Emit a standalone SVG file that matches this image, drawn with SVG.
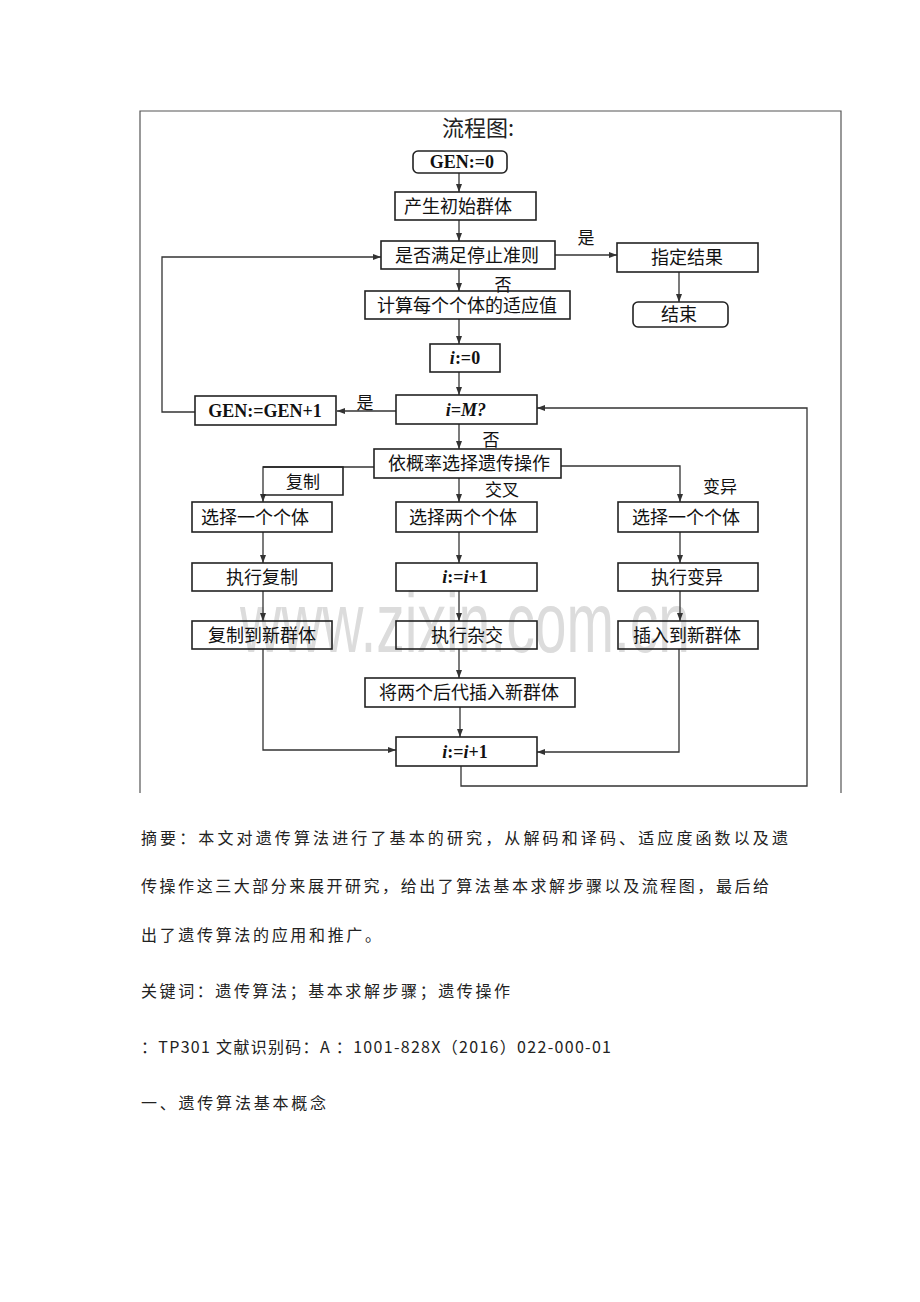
<svg xmlns="http://www.w3.org/2000/svg" width="920" height="1302" viewBox="0 0 920 1302">
<style>
.box{fill:none;stroke:#222;stroke-width:1.6}
.cn{font-family:"Noto Sans CJK SC","Noto Sans CJK JP",sans-serif;font-size:18px;fill:#111;text-anchor:middle}
.lb{font-family:"Noto Sans CJK SC","Noto Sans CJK JP",sans-serif;font-size:17px;fill:#111;text-anchor:middle}
.en{font-family:"Liberation Serif","Times New Roman",serif;font-size:18px;font-weight:bold;fill:#111;text-anchor:middle}
.ln{fill:none;stroke:#333;stroke-width:1.3}
.body{font-family:"Noto Sans CJK SC","Noto Sans CJK JP",sans-serif;font-size:16px;fill:#222}
</style>
<defs>
<marker id="ah" markerUnits="userSpaceOnUse" markerWidth="8" markerHeight="6" refX="8" refY="3" orient="auto">
<path d="M0,0 L8,3 L0,6 z" fill="#333"/>
</marker>
</defs>
<rect width="920" height="1302" fill="#fff"/>
<path d="M140,793 V111 H841 V793" fill="none" stroke="#555" stroke-width="1.2"/>
<text x="240" y="652" textLength="450" lengthAdjust="spacingAndGlyphs" font-family="Liberation Sans, Arial, sans-serif" font-size="85" fill="#dcdcdc">www.zixin.com.cn</text>
<text x="478" y="136" font-family="Noto Sans CJK SC, sans-serif" font-size="22" fill="#222" text-anchor="middle">流程图:</text>
<g id="connectors">
<path class="ln" d="M459,173 V192" marker-end="url(#ah)"/>
<path class="ln" d="M459,220 V241" marker-end="url(#ah)"/>
<path class="ln" d="M459,269 V291" marker-end="url(#ah)"/>
<path class="ln" d="M555,255 H617" marker-end="url(#ah)"/>
<path class="ln" d="M679,272 V302" marker-end="url(#ah)"/>
<path class="ln" d="M459,319 V344" marker-end="url(#ah)"/>
<path class="ln" d="M459,372 V395" marker-end="url(#ah)"/>
<path class="ln" d="M396,411 H337" marker-end="url(#ah)"/>
<path class="ln" d="M195,412 H162 V257 H381" marker-end="url(#ah)"/>
<path class="ln" d="M459,424 V449" marker-end="url(#ah)"/>
<path class="ln" d="M374,467 H263 V502" marker-end="url(#ah)"/>
<path class="ln" d="M459,478 V502" marker-end="url(#ah)"/>
<path class="ln" d="M561,466 H680 V502" marker-end="url(#ah)"/>
<path class="ln" d="M263,532 V563" marker-end="url(#ah)"/>
<path class="ln" d="M263,591 V621" marker-end="url(#ah)"/>
<path class="ln" d="M459,532 V563" marker-end="url(#ah)"/>
<path class="ln" d="M459,591 V621" marker-end="url(#ah)"/>
<path class="ln" d="M459,649 V678" marker-end="url(#ah)"/>
<path class="ln" d="M460,707 V737" marker-end="url(#ah)"/>
<path class="ln" d="M680,532 V563" marker-end="url(#ah)"/>
<path class="ln" d="M680,591 V621" marker-end="url(#ah)"/>
<path class="ln" d="M263,649 V750 H396" marker-end="url(#ah)"/>
<path class="ln" d="M679,649 V752 H537" marker-end="url(#ah)"/>
<path class="ln" d="M461,766 V786 H807 V408 H537" marker-end="url(#ah)"/>
<text class="lb" x="586" y="244">是</text>
<text class="lb" x="503" y="291">否</text>
<text class="lb" x="365" y="409">是</text>
<text class="lb" x="491" y="446">否</text>
<text class="lb" x="502" y="496">交叉</text>
<text class="lb" x="720" y="493">变异</text>
</g>
<g id="n-copylabel"><path class="box" d="M263,467 H343 V495 H263"/><text class="lb" x="303" y="488">复制</text></g>
<g id="n-gen0"><rect class="box" x="413" y="151" width="94" height="22" rx="5"/><text class="en" x="462" y="168">GEN:=0</text></g>
<g id="n-init"><rect class="box" x="395" y="192" width="141" height="28"/><text class="cn" x="458" y="212.5">产生初始群体</text></g>
<g id="n-stop"><rect class="box" x="381" y="241" width="174" height="28"/><text class="cn" x="467" y="261.5">是否满足停止准则</text></g>
<g id="n-result"><rect class="box" x="617" y="243" width="141" height="29"/><text class="cn" x="687" y="264">指定结果</text></g>
<g id="n-end"><rect class="box" x="633" y="302" width="95" height="25" rx="5"/><text class="cn" x="679" y="321">结束</text></g>
<g id="n-fit"><rect class="box" x="365" y="291" width="205" height="28"/><text class="cn" x="467" y="311.5">计算每个个体的适应值</text></g>
<g id="n-i0"><rect class="box" x="430" y="344" width="70" height="28"/><text class="en" x="465" y="364"><tspan font-style="italic">i</tspan>:=0</text></g>
<g id="n-genplus"><rect class="box" x="195" y="396" width="141" height="29"/><text class="en" x="265" y="416.5">GEN:=GEN+1</text></g>
<g id="n-im"><rect class="box" x="396" y="395" width="141" height="29"/><text class="en" x="466" y="415.5" font-style="italic">i=M?</text></g>
<g id="n-op"><rect class="box" x="374" y="449" width="187" height="29"/><text class="cn" x="469" y="470">依概率选择遗传操作</text></g>
<g id="n-sel1"><rect class="box" x="192" y="502" width="140" height="30"/><text class="cn" x="255" y="523.5">选择一个个体</text></g>
<g id="n-sel2"><rect class="box" x="396" y="502" width="141" height="30"/><text class="cn" x="463" y="523.5">选择两个个体</text></g>
<g id="n-sel3"><rect class="box" x="618" y="502" width="140" height="30"/><text class="cn" x="686" y="523.5">选择一个个体</text></g>
<g id="n-docopy"><rect class="box" x="192" y="563" width="140" height="28"/><text class="cn" x="262" y="583.5">执行复制</text></g>
<g id="n-iinc1"><rect class="box" x="396" y="563" width="141" height="28"/><text class="en" x="465" y="583"><tspan font-style="italic">i</tspan>:=<tspan font-style="italic">i</tspan>+1</text></g>
<g id="n-domut"><rect class="box" x="618" y="563" width="140" height="28"/><text class="cn" x="687" y="583.5">执行变异</text></g>
<g id="n-copynew"><rect class="box" x="192" y="621" width="140" height="28"/><text class="cn" x="262" y="641.5">复制到新群体</text></g>
<g id="n-cross"><rect class="box" x="396" y="621" width="141" height="28"/><text class="cn" x="467" y="641.5">执行杂交</text></g>
<g id="n-insnew"><rect class="box" x="618" y="621" width="140" height="28"/><text class="cn" x="687" y="641.5">插入到新群体</text></g>
<g id="n-offspring"><rect class="box" x="365" y="678" width="210" height="29"/><text class="cn" x="469" y="699">将两个后代插入新群体</text></g>
<g id="n-iinc2"><rect class="box" x="396" y="737" width="141" height="29"/><text class="en" x="465" y="757.5"><tspan font-style="italic">i</tspan>:=<tspan font-style="italic">i</tspan>+1</text></g>
<g id="body-text">
<text class="body" x="141" y="844" textLength="647" lengthAdjust="spacing">摘要：本文对遗传算法进行了基本的研究，从解码和译码、适应度函数以及遗</text>
<text class="body" x="141" y="892" textLength="628" lengthAdjust="spacing">传操作这三大部分来展开研究，给出了算法基本求解步骤以及流程图，最后给</text>
<text class="body" x="141" y="941" textLength="240" lengthAdjust="spacing">出了遗传算法的应用和推广。</text>
<text class="body" x="141" y="997" textLength="369" lengthAdjust="spacing">关键词：遗传算法；基本求解步骤；遗传操作</text>
<text class="body" x="141" y="1053" textLength="470" lengthAdjust="spacing">：TP301 文献识别码：A ：1001-828X（2016）022-000-01</text>
<text class="body" x="141" y="1109" textLength="185" lengthAdjust="spacing">一、遗传算法基本概念</text>
</g>
</svg>
